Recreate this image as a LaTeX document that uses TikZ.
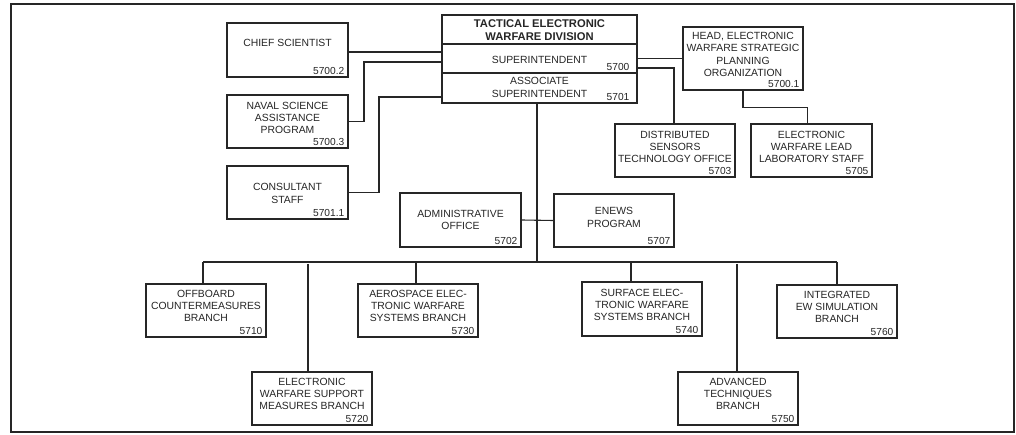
\documentclass[tikz,border=0pt]{standalone}
\usepackage{fontspec}
\setmainfont{Liberation Sans}
\usetikzlibrary{calc}
\definecolor{ink}{HTML}{262626}
\tikzset{
  box/.style={draw=ink, line width=1.1pt, inner sep=0pt, fill=white},
  txt/.style={align=center, inner sep=0pt, text=ink, font=\fontsize{10.4}{12.4}\selectfont},
  num/.style={anchor=base east, inner sep=0pt, text=ink, font=\fontsize{10.2}{12}\selectfont},
  wire/.style={draw=ink, line width=1.1pt}
}
\newcommand\orgbox[8]{%
  \node[box, minimum width={#4-#2}, minimum height={#5-#3}] (#1) at ({(#2+#4)/2},{(#3+#5)/2}) {};
  \node[txt] (#1-t) at ({(#2+#4)/2},#6) {#7};
  \node[num] (#1-n) at ([xshift=-4pt,yshift=3pt]#1.south east) {#8};
}
\begin{document}
\begin{tikzpicture}[x=1pt,y=-1pt]
\useasboundingbox (0,0) rectangle (1016,435);
\draw[draw=ink, line width=2.6pt] (11,4) rectangle (1014,432);

% main box
\node[box, minimum width=195, minimum height=29] (title) at (539.5,29.5) {};
\node[txt, font=\bfseries\fontsize{11.2}{12.8}\selectfont] (title-t) at (539.5,30.5) {TACTICAL ELECTRONIC\\WARFARE DIVISION};
\node[box, minimum width=195, minimum height=29] (sup) at (539.5,58.5) {};
\node[txt] (sup-t) at (539.5,59.5) {SUPERINTENDENT};
\node[num] (sup-n) at ([xshift=-8pt,yshift=3pt]sup.south east) {5700};
\node[box, minimum width=195, minimum height=30] (assoc) at (539.5,88) {};
\node[txt] (assoc-t) at (539.5,87.5) {ASSOCIATE\\SUPERINTENDENT};
\node[num] (assoc-n) at ([xshift=-8pt,yshift=3pt]assoc.south east) {5701};

% staff boxes
\orgbox{chief}{227}{23}{348}{77}{43}{CHIEF SCIENTIST}{5700.2}
\orgbox{naval}{227}{95}{348}{148}{118}{NAVAL SCIENCE\\ASSISTANCE\\PROGRAM}{5700.3}
\orgbox{cons}{227}{166}{348}{219}{193.5}{CONSULTANT\\STAFF}{5701.1}
\orgbox{admin}{400}{193}{521}{247}{220}{ADMINISTRATIVE\\OFFICE}{5702}
\orgbox{enews}{554}{194}{674}{247}{217.5}{ENEWS\\PROGRAM}{5707}
\orgbox{head}{683}{27}{803}{90}{54.5}{HEAD, ELECTRONIC\\WARFARE STRATEGIC\\PLANNING\\ORGANIZATION}{5700.1}
\orgbox{dist}{615}{124}{735}{177}{147}{DISTRIBUTED\\SENSORS\\TECHNOLOGY OFFICE}{5703}
\orgbox{lead}{751}{124}{872}{177}{147}{ELECTRONIC\\WARFARE LEAD\\LABORATORY STAFF}{5705}

% branches
\orgbox{offb}{146}{284}{266}{337}{306}{OFFBOARD\\COUNTERMEASURES\\BRANCH}{5710}
\orgbox{aero}{358}{284}{478}{337}{306}{AEROSPACE ELEC-\\TRONIC WARFARE\\SYSTEMS BRANCH}{5730}
\orgbox{surf}{582}{282}{702}{336}{305}{SURFACE ELEC-\\TRONIC WARFARE\\SYSTEMS BRANCH}{5740}
\orgbox{integ}{777}{285}{897}{338}{307}{INTEGRATED\\EW SIMULATION\\BRANCH}{5760}
\orgbox{esm}{252}{372}{372}{425}{394}{ELECTRONIC\\WARFARE SUPPORT\\MEASURES BRANCH}{5720}
\orgbox{adv}{678}{372}{798}{425}{394}{ADVANCED\\TECHNIQUES\\BRANCH}{5750}

% coordinates
\coordinate (busL) at (203,262);
\coordinate (busR) at (837,262);
\coordinate (bus) at (537,262);
\coordinate (nv) at (364,62);
\coordinate (cs) at (379,97);
\coordinate (ds) at (674,68);

% connectors
\draw[wire] ([yshift=-2pt]chief.east) -- ([yshift=-2pt]chief.east -| sup.west);
\draw[wire] (naval.east) -| (nv) -- (nv -| sup.west);
\draw[wire] (cons.east) -| (cs) -- (cs -| assoc.west);
\draw[wire] (head.west) -- (head.west -| sup.east);
\draw[wire] (ds -| sup.east) -- (ds) -- (ds |- dist.north);
\draw[wire] (head.south) -- ++(0,17) -| ([xshift=-4pt]lead.north);
\draw[wire] (assoc.south -| bus) -- (bus);
\draw[wire] (admin.east) -- (enews.west);
\draw[wire] (busL) -- (busR);
\draw[wire] (busL) -- (busL |- offb.north);
\draw[wire] (416,262) -- (416,284);
\draw[wire] (631,262) -- (631,282);
\draw[wire] (busR) -- (busR |- integ.north);
\draw[wire] (308,264) -- (308,372);
\draw[wire] (737,264) -- (737,372);
\end{tikzpicture}
\end{document}
